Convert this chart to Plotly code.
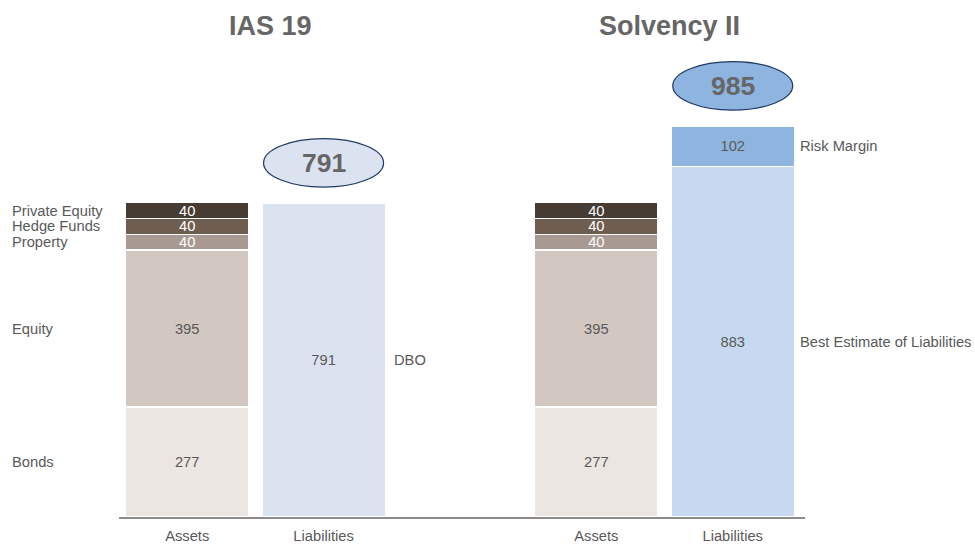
import plotly.graph_objects as go

# Data
x_pos = [0, 1, 3, 4]
x_labels = ["Assets", "Liabilities", "Assets", "Liabilities"]

asset_classes = ["Bonds", "Equity", "Property", "Hedge Funds", "Private Equity"]
asset_values = [277, 395, 40, 40, 40]
asset_colors = ["#ECE6E2", "#D3C7C2", "#A89A92", "#6F5D50", "#463C34"]
asset_text_colors = ["#595959", "#595959", "#FFFFFF", "#FFFFFF", "#FFFFFF"]

ias_liab_label = "DBO"
ias_liab_value = 791
sii_liab_labels = ["Best Estimate of Liabilities", "Risk Margin"]
sii_liab_values = [883, 102]
sii_liab_colors = ["#C6D9F0", "#8EB4E0"]

titles = ["IAS 19", "Solvency II"]

GREY = "#595959"
FONT = "Liberation Sans, Arial, sans-serif"
FS = 14.7

fig = go.Figure()

# asset stacks for both regimes
for name, val, col, tcol in zip(asset_classes, asset_values, asset_colors, asset_text_colors):
    fig.add_trace(go.Bar(
        x=[x_pos[0], x_pos[2]], y=[val, val],
        marker=dict(color=col, line=dict(color="white", width=1.5)),
        text=[val, val], textposition="inside", insidetextanchor="middle",
        textangle=0, textfont=dict(color=tcol, size=FS, family=FONT),
        constraintext="none", width=0.905, name=name, hoverinfo="name+y"
    ))

# IAS 19 liabilities
fig.add_trace(go.Bar(
    x=[x_pos[1]], y=[ias_liab_value],
    marker=dict(color="#DCE3F0", line=dict(color="white", width=1.5)),
    text=[ias_liab_value], textposition="inside", insidetextanchor="middle",
    textangle=0, textfont=dict(color=GREY, size=FS, family=FONT),
    constraintext="none", width=0.905, name=ias_liab_label
))

# Solvency II liabilities
for name, val, col in zip(sii_liab_labels, sii_liab_values, sii_liab_colors):
    fig.add_trace(go.Bar(
        x=[x_pos[3]], y=[val],
        marker=dict(color=col, line=dict(color="white", width=1.5)),
        text=[val], textposition="inside", insidetextanchor="middle",
        textangle=0, textfont=dict(color=GREY, size=FS, family=FONT),
        constraintext="none", width=0.905, name=name
    ))

annotations = []

# left-hand asset labels at segment midpoints
cum = 0
for name, val in zip(asset_classes, asset_values):
    annotations.append(dict(x=-0.159, xref="paper", y=cum + val / 2, yref="y",
                            text=name, showarrow=False, xanchor="left",
                            font=dict(size=FS, color=GREY, family=FONT)))
    cum += val

# right-hand liability labels
annotations.append(dict(x=x_pos[1] + 0.5, y=ias_liab_value / 2, text=ias_liab_label,
                        showarrow=False, xanchor="left",
                        font=dict(size=FS, color=GREY, family=FONT)))
cum = 0
for name, val in zip(sii_liab_labels, sii_liab_values):
    annotations.append(dict(x=x_pos[3] + 0.48, y=cum + val / 2, text=name,
                            showarrow=False, xanchor="left",
                            font=dict(size=FS, color=GREY, family=FONT)))
    cum += val

# section titles
for t, xc in zip(titles, [0.61, 3.54]):
    annotations.append(dict(x=xc, y=1.0, xref="x", yref="paper", yanchor="middle",
                            text="<b>" + t + "</b>", showarrow=False, yshift=-26,
                            font=dict(size=27, color="#666666", family=FONT)))

# total bubbles
totals = [ias_liab_value, sum(sii_liab_values)]
fills = ["#DCE3F0", "#8EB4E0"]
shapes = []
for xc, tot, fc in zip([x_pos[1], x_pos[3]], totals, fills):
    cy = tot + 101
    shapes.append(dict(type="circle", xref="x", yref="y",
                       x0=xc - 0.44, x1=xc + 0.44, y0=cy - 61, y1=cy + 61,
                       fillcolor=fc, line=dict(color="#1F3864", width=1.2), layer="above"))
    annotations.append(dict(x=xc, y=cy, text="<b>%d</b>" % tot, showarrow=False,
                            font=dict(size=26.5, color="#666666", family=FONT)))

fig.update_layout(
    barmode="stack",
    width=975, height=544,
    margin=dict(l=119, r=170, t=0, b=27),
    plot_bgcolor="white", paper_bgcolor="white",
    showlegend=False,
    annotations=annotations,
    shapes=shapes,
    font=dict(family=FONT, color=GREY),
)
fig.update_xaxes(range=[-0.5, 4.53], tickvals=x_pos, ticktext=x_labels,
                 showline=True, linecolor="#8C8C8C", linewidth=1.5,
                 showgrid=False, zeroline=False, ticks="", ticklabelstandoff=5,
                 automargin=False,
                 tickfont=dict(size=FS, color=GREY, family=FONT))
fig.update_yaxes(range=[0, 517 / 0.397], visible=False, showgrid=False,
                 automargin=False)

# drop the default page margin so the figure fills the window exactly
fig.write_html("out.html", config={"displayModeBar": False},
               post_script="document.body.style.margin='0';")
